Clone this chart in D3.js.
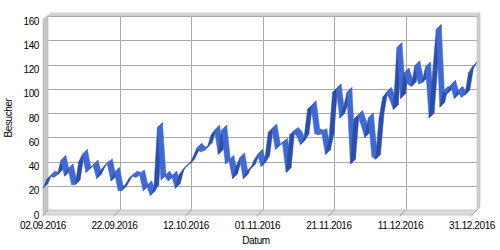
<!DOCTYPE html>
<html><head><meta charset="utf-8">
<script src="https://cdn.jsdelivr.net/npm/d3@7"></script>
<style>
html,body{margin:0;padding:0;background:#fff;}
text{font-family:"Liberation Sans",Arial,sans-serif;font-size:10px;fill:#000;letter-spacing:-0.4px;}
</style></head>
<body>
<svg id="c" width="500" height="250"></svg>
<script>
const startDate = "2016-09-02";
const endDate = "2016-12-31";
const values = [22,29,32,31,33,45,32,38,25,25,44,50,35,38,41,30,36,40,42,28,
35,20,20,25,30,32,31,33,20,24,16,21,72,29,32,28,32,22,33,37,
40,42,48,55,52,53,56,66,70,50,70,42,45,30,40,47,30,36,38,45,
50,40,45,68,71,54,57,59,35,66,68,65,58,63,87,90,67,66,67,50,
63,101,104,80,88,101,42,79,82,74,64,80,48,46,80,97,101,95,87,138,
96,117,108,106,123,108,109,122,80,118,153,89,102,100,107,96,102,97,99,117,122];
const yTicks = [0,20,40,60,80,100,120,140,160];
const xTickLabels = ["02.09.2016","22.09.2016","12.10.2016","01.11.2016","21.11.2016","11.12.2016","31.12.2016"];
const yTitle = "Besucher";
const xTitle = "Datum";

const parse = d3.timeParse("%Y-%m-%d");
const fmt = d3.timeFormat("%d.%m.%Y");
const tparse = d3.timeParse("%d.%m.%Y");
const t0 = parse(startDate), t1 = parse(endDate);
const dates = d3.timeDay.range(t0, d3.timeDay.offset(t1, 1));
const data = dates.map((d, i) => ({date: d, v: values[i]}));

const DX = 5, DY = -5;
const x = d3.scaleTime().domain([t0, t1]).range([43, 472]);
const y = d3.scaleLinear().domain([0, 160]).range([215, 21]);

const svg = d3.select("#c");
const g = svg.append("g");

const xl = x.range()[0], xr = x.range()[1];
const yb = y(0), yt = y(160);

// back wall
g.append("rect").attr("x", xl + DX).attr("y", yt + DY).attr("width", xr - xl).attr("height", yb - yt)
  .attr("fill", "#ffffff");
// top thickness band
g.append("path").attr("d", `M${xl},${yt} L${xl+DX},${yt+DY} L${xr+DX},${yt+DY} L${xr+DX+3},${yt+DY-3} L${xl+DX+3},${yt+DY-3} L${xl},${yt-2} Z`)
  .attr("fill", "#d6d6d6").attr("stroke", "#c0c0c0").attr("stroke-width", 0.6);
// right thickness band
g.append("path").attr("d", `M${xr+DX},${yt+DY} L${xr+DX+3},${yt+DY-3} L${xr+DX+3},${yb+DY-3} L${xr+DX},${yb+DY} Z`)
  .attr("fill", "#cfcfcf").attr("stroke", "#bdbdbd").attr("stroke-width", 0.6);

// horizontal gridlines on back wall
g.selectAll("line.hg").data(yTicks).join("line")
  .attr("x1", xl + DX).attr("x2", xr + DX)
  .attr("y1", d => Math.round(y(d) + DY) + 0.5).attr("y2", d => Math.round(y(d) + DY) + 0.5)
  .attr("stroke", "#a8a8a8").attr("stroke-width", 1);

// vertical gridlines
const gridDates = xTickLabels.slice(1, -1).map(tparse);
g.selectAll("line.vg").data(gridDates).join("line")
  .attr("x1", d => Math.round(x(d) + DX) + 0.5).attr("x2", d => Math.round(x(d) + DX) + 0.5)
  .attr("y1", yt + DY).attr("y2", yb + DY)
  .attr("stroke", "#a8a8a8").attr("stroke-width", 1);

// left wall
g.append("path").attr("d", `M${xl},${yt} L${xl+DX},${yt+DY} L${xl+DX},${yb+DY} L${xl},${yb} Z`)
  .attr("fill", "#c6c6c6").attr("stroke", "#b0b0b0").attr("stroke-width", 0.6);

// floor
g.append("path").attr("d", `M${xl},${yb} L${xl+DX},${yb+DY} L${xr+DX},${yb+DY} L${xr},${yb} Z`)
  .attr("fill", "#dcdcdc").attr("stroke", "#b4b4b4").attr("stroke-width", 0.7);

// floor ticks
g.selectAll("line.ft").data(xTickLabels.map(tparse)).join("line")
  .attr("x1", d => x(d) + DX).attr("y1", yb + DY)
  .attr("x2", d => x(d) - 1).attr("y2", yb + 1.5)
  .attr("stroke", "#909090").attr("stroke-width", 0.8);

// ribbon
const ribbon = g.append("g");
for (let i = 0; i < data.length - 1; i++) {
  const a = data[i], b = data[i + 1];
  const ax = x(a.date), ay = y(a.v), bx = x(b.date), by = y(b.v);
  const dx = bx - ax, dy = by - ay;
  const under = (dx + dy) < 0; // steeply rising -> underside visible
  const col = under ? "#2c4ea6" : "#4169cf";
  ribbon.append("path")
    .attr("d", `M${ax},${ay} L${bx},${by} L${bx+DX},${by+DY} L${ax+DX},${ay+DY} Z`)
    .attr("fill", col).attr("stroke", col).attr("stroke-width", 0.5).attr("stroke-linejoin", "round");
}

// y tick labels
g.selectAll("text.yl").data(yTicks).join("text")
  .attr("x", xl - 4).attr("y", d => y(d)).attr("dy", "0.35em")
  .attr("text-anchor", "end").text(d => d);

// x tick labels
g.selectAll("text.xl").data(xTickLabels).join("text")
  .attr("x", d => x(tparse(d))).attr("y", 229)
  .attr("text-anchor", "middle").text(d => fmt(tparse(d)));

// axis titles
g.append("text").attr("transform", `translate(12,${(yt+yb)/2}) rotate(-90)`)
  .attr("text-anchor", "middle").text(yTitle);
g.append("text").attr("x", 256).attr("y", 244).attr("text-anchor", "middle").text(xTitle);
</script>
</body></html>
